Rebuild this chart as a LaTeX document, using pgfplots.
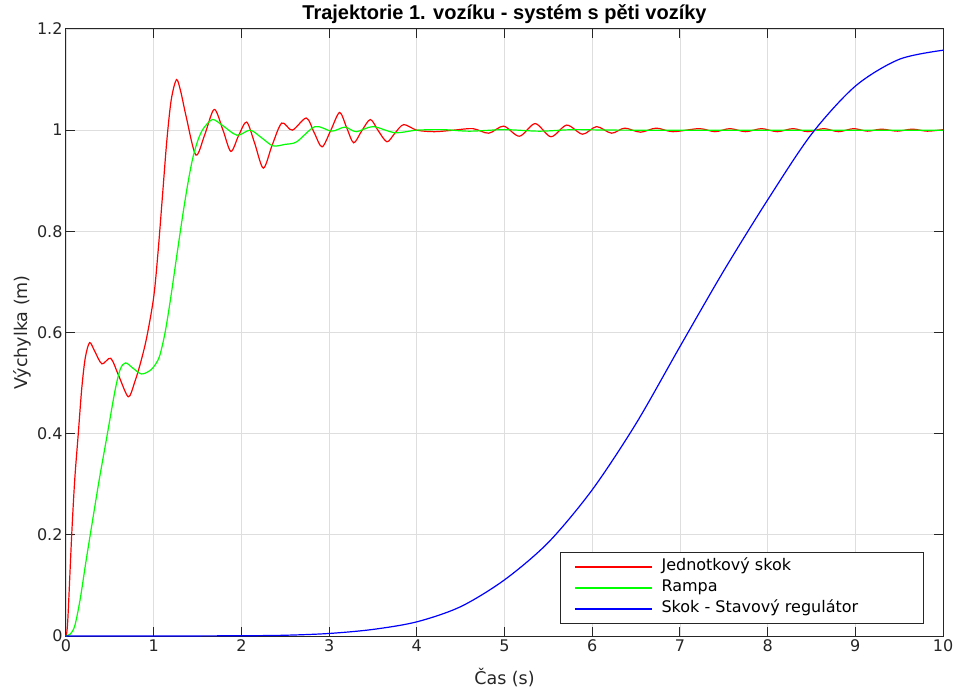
\documentclass[border=0pt]{standalone}
\usepackage{fontspec}
\setmainfont{DejaVu Sans}
\newfontfamily\titlefont{Liberation Sans}
\usepackage{pgfplots}
\pgfplotsset{compat=1.18}
\definecolor{axgray}{RGB}{38,38,38}
\definecolor{gridgray}{RGB}{222,222,222}
\definecolor{mred}{RGB}{255,0,0}
\definecolor{mgreen}{RGB}{0,255,0}
\definecolor{mblue}{RGB}{0,0,255}
\begin{document}
\begin{tikzpicture}
\begin{axis}[name=ax,scale only axis,width=877pt,height=607pt,
  xmin=0,xmax=10,ymin=0,ymax=1.2,clip=false,
  xtick={0,1,2,3,4,5,6,7,8,9,10},ytick={0,0.2,0.4,0.6,0.8,1,1.2},
  grid=major,grid style={gridgray,line width=0.8pt},
  axis line style={axgray,line width=1pt},tick style={axgray,line width=1pt},major tick length=9pt,
  tick label style={font=\fontsize{16}{19}\selectfont,text=axgray},
  /pgf/number format/assume math mode=true,
  yticklabel style={/pgf/number format/fixed},
  title={Trajektorie 1. vozíku - systém s pěti vozíky},
  title style={font=\titlefont\bfseries\fontsize{20}{24}\selectfont,at={(axis description cs:0.5,1)},anchor=base,yshift=3pt},
  xlabel={Čas (s)},ylabel={Výchylka (m)},
  label style={font=\fontsize{17.5}{21}\selectfont,text=axgray},
  xlabel style={at={(axis description cs:0.5,-0.0692)},anchor=center},
  ylabel style={at={(axis description cs:-0.0502,0.5)},anchor=center},
  legend style={at={(axis description cs:1,0)},anchor=south east,xshift=-19pt,yshift=12pt,
    draw=axgray,line width=0.9pt,inner xsep=14pt,inner ysep=4pt,column sep=5pt,row sep=0pt,
    font=\fontsize{16}{19}\selectfont,
    nodes={inner xsep=4pt,inner ysep=3.25pt,text height=11pt,text depth=3.5pt}},
  legend cell align=left,
  legend image code/.code={\draw[#1,line width=1.6pt] (0pt,0pt) -- (77pt,0pt);}]

% Jednotkovy skok
\addplot[mred,line width=1.2pt,smooth] coordinates {
(0,0) (0.02,0.03) (0.065,0.2) (0.10,0.31) (0.14,0.40) (0.18,0.49) (0.22,0.55) (0.27,0.58) (0.33,0.562) (0.41,0.538)
(0.51,0.549) (0.6,0.515) (0.71,0.473) (0.78,0.50) (0.85,0.54) (0.92,0.59) (1.0,0.67) (1.05,0.76) (1.10,0.87) (1.15,0.98)
(1.20,1.06) (1.26,1.10) (1.31,1.075) (1.37,1.027) (1.48,0.951) (1.58,0.99) (1.69,1.041) (1.79,1.0) (1.88,0.958) (1.97,0.99) (2.06,1.016)
(2.15,0.975) (2.25,0.925) (2.35,0.97) (2.46,1.014) (2.58,1.0) (2.74,1.024) (2.83,0.995) (2.92,0.967) (3.02,1.0) (3.12,1.035)
(3.20,1.005) (3.28,0.975) (3.37,0.998) (3.47,1.021) (3.56,0.999) (3.66,0.977) (3.75,0.994) (3.85,1.011) (4.0,1.0) (4.2,0.997)
(4.42,1.0) (4.64,1.003) (4.82,0.994) (4.99,1.008) (5.17,0.988) (5.35,1.013) (5.53,0.987) (5.71,1.010) (5.89,0.992) (6.05,1.007)
(6.22,0.994) (6.37,1.004) (6.55,0.996) (6.73,1.004) (6.92,0.997) (7.22,1.003) (7.40,0.997) (7.57,1.003) (7.75,0.997) (7.93,1.003)
(8.11,0.997) (8.29,1.003) (8.46,0.997) (8.64,1.003) (8.81,0.997) (8.98,1.003) (9.14,0.998) (9.30,1.002) (9.48,0.998) (9.65,1.002)
(9.82,0.998) (10,1.001)};
\addlegendentry{Jednotkový skok}

% Rampa
\addplot[mgreen,line width=1.2pt,smooth] coordinates {
(0,0) (0.05,0.004) (0.1,0.02) (0.16,0.071) (0.23,0.15) (0.31,0.236) (0.38,0.31) (0.46,0.388) (0.56,0.486) (0.62,0.528)
(0.68,0.54) (0.76,0.53) (0.86,0.518) (0.96,0.525) (1.02,0.537) (1.07,0.555) (1.13,0.60) (1.19,0.664) (1.27,0.76) (1.34,0.842)
(1.40,0.905) (1.45,0.948) (1.51,0.983) (1.57,1.004) (1.67,1.021) (1.78,1.01) (1.95,0.990) (2.10,1.0) (2.23,0.985) (2.36,0.969)
(2.50,0.972) (2.63,0.977) (2.84,1.007) (3.03,0.998) (3.18,1.006) (3.31,0.997) (3.50,1.007) (3.75,0.995) (4.0,1.0) (4.3,1.001)
(4.6,0.998) (5.0,1.001) (5.4,0.998) (5.8,1.001) (6.5,1.0) (10,1.0)};
\addlegendentry{Rampa}

% Skok - Stavovy regulator
\addplot[mblue,line width=1.2pt,smooth] coordinates {
(0,0) (1,0) (2,0.0005) (2.5,0.0015) (3,0.005) (3.5,0.013) (4,0.028) (4.5,0.058) (5,0.111) (5.5,0.185)
(6,0.289) (6.5,0.42) (7,0.572) (7.5,0.722) (8,0.862) (8.5,0.992) (9,1.087) (9.5,1.140) (10,1.158)};
\addlegendentry{\makebox[244pt][l]{Skok - Stavový regulátor}}
\end{axis}
\pgfresetboundingbox
\path ([shift={(-66pt,-54pt)}]ax.south west) rectangle ([shift={(14pt,29pt)}]ax.north east);
\end{tikzpicture}
\end{document}
